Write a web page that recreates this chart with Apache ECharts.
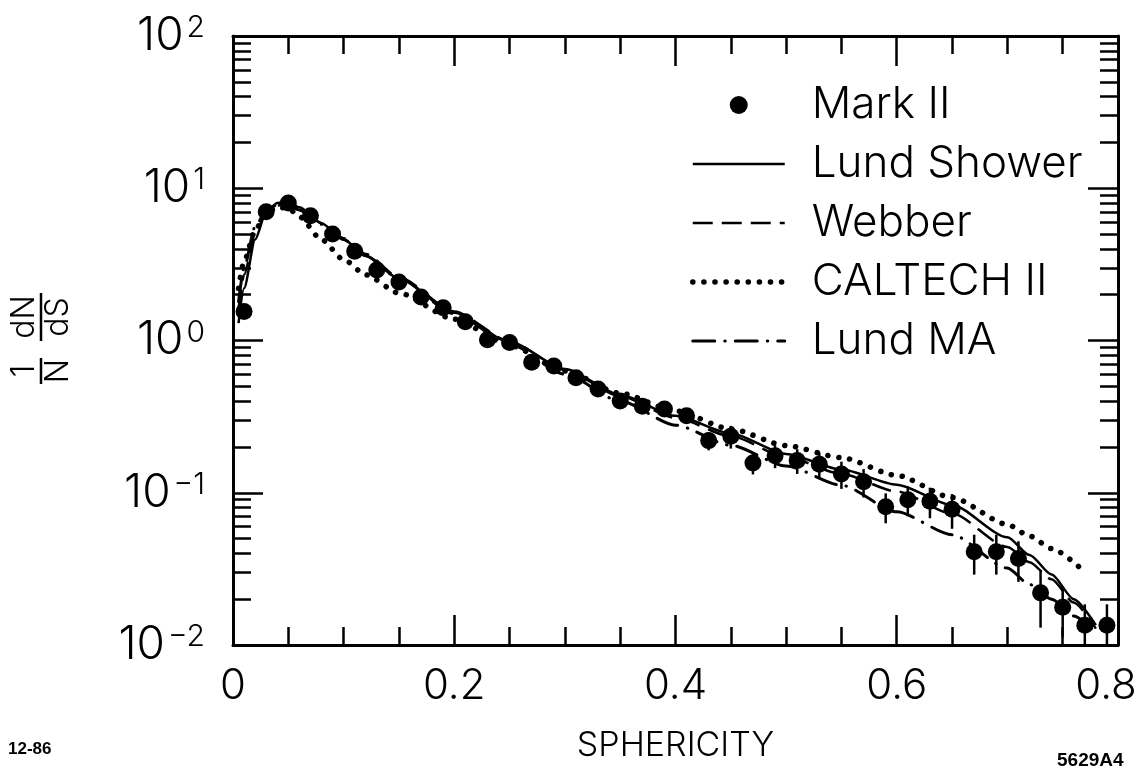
<!DOCTYPE html>
<html>
<head>
<meta charset="utf-8">
<script src="https://cdn.jsdelivr.net/npm/echarts@6/dist/echarts.min.js"></script>
<style>
  html, body { margin: 0; padding: 0; background: #fff; }
  #chart { width: 1141px; height: 773px; }
</style>
</head>
<body>
<div id="chart"></div>
<script>
// Mark II measurement: sphericity bin centres, 1/N dN/dS and its error
const sphericity = [0.01, 0.03, 0.05, 0.07, 0.09, 0.11, 0.13, 0.15, 0.17, 0.19,
                    0.21, 0.23, 0.25, 0.27, 0.29, 0.31, 0.33, 0.35, 0.37, 0.39,
                    0.41, 0.43, 0.45, 0.47, 0.49, 0.51, 0.53, 0.55, 0.57, 0.59,
                    0.61, 0.63, 0.65, 0.67, 0.69, 0.71, 0.73, 0.75, 0.77, 0.79];
const markII = [1.55, 7.0, 8.0, 6.6, 5.0, 3.85, 2.9, 2.42, 1.93, 1.64,
                1.33, 1.01, 0.97, 0.72, 0.68, 0.57, 0.48, 0.40, 0.37, 0.355,
                0.32, 0.22, 0.235, 0.157, 0.175, 0.163, 0.154, 0.133, 0.118, 0.081,
                0.09, 0.088, 0.078, 0.041, 0.041, 0.037, 0.022, 0.0177, 0.0135, 0.0135];
const markIIErr = [0.1, 0.3, 0.3, 0.25, 0.2, 0.15, 0.12, 0.1, 0.08, 0.07,
                   0.06, 0.05, 0.05, 0.04, 0.04, 0.035, 0.03, 0.03, 0.03, 0.03,
                   0.035, 0.03, 0.04, 0.025, 0.03, 0.03, 0.03, 0.027, 0.025, 0.018,
                   0.02, 0.02, 0.02, 0.012, 0.012, 0.011, 0.009, 0.0065, 0.005, 0.005];

// Model predictions
const modelS = [0.005, 0.01, 0.02, 0.03, 0.04, 0.05, 0.06, 0.08, 0.10, 0.12, 0.15,
                0.20, 0.25, 0.30, 0.35, 0.40, 0.45, 0.50, 0.55, 0.60, 0.65,
                0.70, 0.72, 0.74, 0.76, 0.78];
const lundShower = [1.3, 2.2, 4.6, 7.0, 8.0, 8.1, 7.5, 5.9, 4.6, 3.6, 2.55,
                    1.52, 0.98, 0.65, 0.44, 0.32, 0.245, 0.18, 0.142, 0.113, 0.083,
                    0.051, 0.039, 0.029, 0.020, 0.0135];
const webber = [1.6, 2.7, 5.0, 6.9, 7.7, 7.8, 7.3, 5.9, 4.7, 3.7, 2.6,
                1.55, 0.99, 0.64, 0.43, 0.31, 0.235, 0.172, 0.133, 0.102, 0.073,
                0.044, 0.035, 0.027, 0.019, 0.0128];
const lundMA = [1.8, 3.0, 5.6, 7.1, 7.8, 7.8, 7.2, 5.8, 4.6, 3.6, 2.55,
                1.5, 0.95, 0.6, 0.4, 0.278, 0.205, 0.15, 0.112, 0.075, 0.053,
                0.032, 0.025, 0.02, 0.0155, 0.012];
const caltechS = [0.005, 0.01, 0.02, 0.03, 0.04, 0.05, 0.06, 0.08, 0.10, 0.12, 0.15,
                  0.20, 0.25, 0.30, 0.35, 0.40, 0.45, 0.50, 0.55, 0.60, 0.65,
                  0.70, 0.72, 0.74, 0.766];
const caltechII = [2.2, 3.3, 5.3, 6.9, 7.5, 7.4, 6.5, 4.6, 3.4, 2.7, 2.05,
                   1.38, 0.93, 0.63, 0.45, 0.345, 0.262, 0.204, 0.17, 0.13, 0.093,
                   0.062, 0.052, 0.043, 0.032];

// Axes
const xTickLabels = ['0', '0.2', '0.4', '0.6', '0.8'];
const yDecades = [0.01, 0.1, 1, 10, 100];
const yExponents = ['\u22122', '\u22121', '0', '1', '2'];

const yMinor = [];
for (let i = 0; i < yDecades.length - 1; i++) {
  for (let m = 2; m <= 9; m++) yMinor.push(+(m * yDecades[i]).toPrecision(3));
}

const FONT = "Inter, 'DejaVu Sans', sans-serif";
const LIGHT = 300;
const INK = '#000';
const NONE = 'rgba(0,0,0,0)';
const frame = { show: true, onZero: false, lineStyle: { color: INK, width: 3 } };
const tickStyle = { color: INK, width: 2.5 };
const plotBox = { left: 233, right: 23, top: 36, bottom: 128, outerBoundsMode: 'none' };

// line looks shared by the plotted curves and their legend keys
const styles = {
  'Lund Shower': { color: INK, width: 2.5, type: 'solid' },
  'Webber': { color: INK, width: 2.5, type: [20, 9] },
  'CALTECH II': { color: INK, width: 5.5, type: [0.1, 11], cap: 'round' },
  'Lund MA': { color: INK, width: 3, type: [22, 10, 0.5, 10], cap: 'round' }
};

function yAxisBase(gridIndex, position, ticks, len, withLine, labels) {
  return {
    gridIndex: gridIndex,
    type: 'log', logBase: 10, min: 0.01, max: 100, position: position,
    axisLine: withLine ? frame : { show: false },
    axisTick: { show: true, inside: true, length: len, lineStyle: tickStyle, customValues: ticks },
    axisLabel: labels || { show: false },
    splitLine: { show: false },
    minorTick: { show: false }
  };
}

const yLabel = {
  show: true,
  customValues: yDecades,
  margin: 28,
  formatter: function (v) {
    const i = yDecades.findIndex(d => Math.abs(d - v) / d < 1e-6);
    return '{b|10}{s|' + yExponents[i] + '}';
  },
  rich: {
    b: { fontSize: 46, fontWeight: LIGHT, fontFamily: FONT, color: INK, lineHeight: 46, verticalAlign: 'bottom' },
    s: { fontSize: 30, fontWeight: LIGHT, fontFamily: FONT, color: INK, lineHeight: 28, verticalAlign: 'top', padding: [0, 0, 0, 3] }
  }
};

const xBase = {
  gridIndex: 0,
  type: 'value', min: 0, max: 0.8, interval: 0.2,
  axisLine: frame,
  axisTick: { show: true, inside: true, length: 30, lineStyle: tickStyle },
  minorTick: { show: true, splitNumber: 4, length: 18, lineStyle: tickStyle },
  splitLine: { show: false },
  minorSplitLine: { show: false }
};

const pairs = (xs, ys) => xs.map((x, i) => [x, ys[i]]);
const lineSeries = (name, xs, ys) => ({
  type: 'line', name: name, data: pairs(xs, ys),
  xAxisIndex: 0, yAxisIndex: 0,
  symbol: 'none', showSymbol: false, smooth: 0.25, smoothMonotone: 'x',
  clip: true, z: 3,
  itemStyle: { color: INK },
  lineStyle: styles[name]
});

const legendItems = [{ name: 'Mark II', itemStyle: { color: INK, opacity: 1 } }].concat(
  ['Lund Shower', 'Webber', 'CALTECH II', 'Lund MA'].map(n => ({
    name: n,
    itemStyle: { color: NONE, borderColor: NONE, borderWidth: 0 },
    lineStyle: styles[n]
  }))
);

const chart = echarts.init(document.getElementById('chart'), null, { renderer: 'canvas' });
chart.setOption({
  backgroundColor: '#fff',
  animation: false,
  // the second grid shares the frame and carries the 2..9 log ticks on both sides
  grid: [Object.assign({}, plotBox), Object.assign({}, plotBox)],
  xAxis: [
    Object.assign({}, xBase, {
      position: 'bottom',
      axisLabel: {
        show: true, margin: 20, fontSize: 42, fontWeight: LIGHT, fontFamily: FONT, color: INK,
        formatter: function (v) {
          const i = Math.round(v / 0.2);
          return i === xTickLabels.length - 1 ? '{r|' + xTickLabels[i] + '}' : xTickLabels[i];
        },
        rich: { r: { fontSize: 42, fontWeight: LIGHT, fontFamily: FONT, color: INK, padding: [0, 24, 0, 0] } }
      },
      name: 'SPHERICITY', nameLocation: 'middle', nameGap: 84,
      nameTextStyle: { fontSize: 34, fontWeight: LIGHT, fontFamily: FONT, color: INK }
    }),
    Object.assign({}, xBase, { position: 'top', axisLabel: { show: false } }),
    { gridIndex: 1, type: 'value', min: 0, max: 0.8, show: false }
  ],
  yAxis: [
    yAxisBase(0, 'left', yDecades, 30, true, yLabel),
    yAxisBase(0, 'right', yDecades, 30, true, null),
    yAxisBase(1, 'left', yMinor, 18, false, null),
    yAxisBase(1, 'right', yMinor, 18, false, null)
  ],
  legend: {
    data: legendItems,
    orient: 'vertical',
    left: 685, top: 78,
    itemWidth: 92, itemHeight: 18, itemGap: 15,
    selectedMode: false,
    textStyle: { fontSize: 44, fontWeight: LIGHT, fontFamily: FONT, color: INK, padding: [0, 0, 0, 22] }
  },
  series: [
    lineSeries('Lund Shower', modelS, lundShower),
    lineSeries('Webber', modelS, webber),
    lineSeries('CALTECH II', caltechS, caltechII),
    lineSeries('Lund MA', modelS, lundMA),
    {
      type: 'custom', name: 'Mark II errors',
      xAxisIndex: 0, yAxisIndex: 0, clip: true, z: 4,
      data: sphericity.map((s, i) => [s, markII[i] - markIIErr[i], markII[i] + markIIErr[i]]),
      encode: { x: 0, y: [1, 2] },
      renderItem: function (params, api) {
        const lo = api.coord([api.value(0), api.value(1)]);
        const hi = api.coord([api.value(0), api.value(2)]);
        return {
          type: 'line',
          shape: { x1: lo[0], y1: lo[1], x2: hi[0], y2: hi[1] },
          style: { stroke: INK, lineWidth: 2.5 }
        };
      }
    },
    {
      type: 'scatter', name: 'Mark II', data: pairs(sphericity, markII),
      xAxisIndex: 0, yAxisIndex: 0,
      symbol: 'circle', symbolSize: 17, clip: true, z: 5,
      itemStyle: { color: INK, opacity: 1 }
    }
  ],
  graphic: [
    {
      type: 'group', x: 41, y: 337, rotation: Math.PI / 2,
      children: [
        { type: 'text', x: -34, y: -17, style: { text: '1', fontSize: 32, fontWeight: LIGHT, fontFamily: FONT, fill: INK, align: 'center', verticalAlign: 'middle' } },
        { type: 'line', shape: { x1: -47, y1: 0, x2: -21, y2: 0 }, style: { stroke: INK, lineWidth: 2.5 } },
        { type: 'text', x: -34, y: 17, style: { text: 'N', fontSize: 32, fontWeight: LIGHT, fontFamily: FONT, fill: INK, align: 'center', verticalAlign: 'middle' } },
        { type: 'text', x: 20, y: -17, style: { text: 'dN', fontSize: 32, fontWeight: LIGHT, fontFamily: FONT, fill: INK, align: 'center', verticalAlign: 'middle' } },
        { type: 'line', shape: { x1: -4, y1: 0, x2: 44, y2: 0 }, style: { stroke: INK, lineWidth: 2.5 } },
        { type: 'text', x: 20, y: 17, style: { text: 'dS', fontSize: 32, fontWeight: LIGHT, fontFamily: FONT, fill: INK, align: 'center', verticalAlign: 'middle' } }
      ]
    },
    { type: 'text', left: 8, top: 741, style: { text: '12-86', fontSize: 17, fontWeight: 'bold', fontFamily: "'Liberation Sans', sans-serif", fill: INK } },
    { type: 'text', left: 1057, top: 751, style: { text: '5629A4', fontSize: 19, fontWeight: 'bold', fontFamily: "'Liberation Sans', sans-serif", fill: INK } }
  ]
});
</script>
</body>
</html>
